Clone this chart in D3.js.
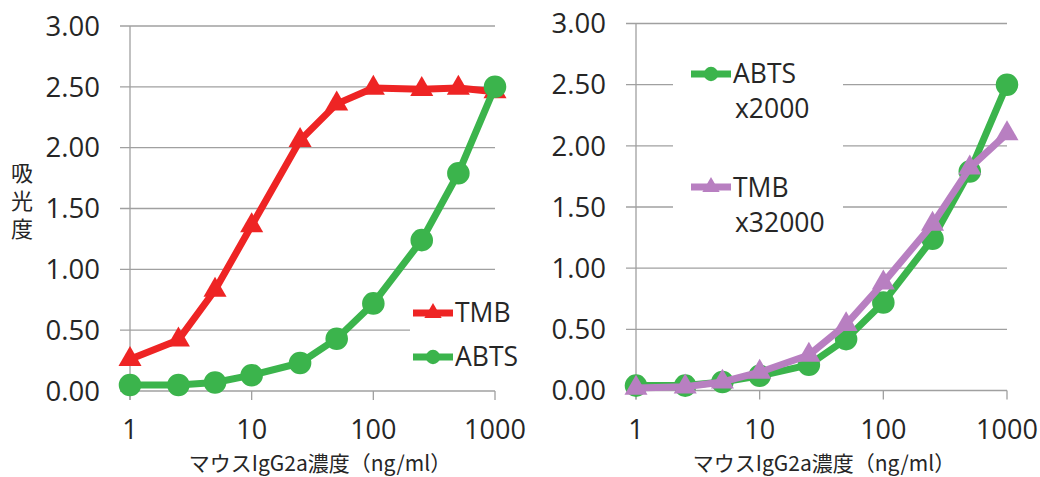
<!DOCTYPE html>
<html><head><meta charset="utf-8">
<script src="https://cdn.jsdelivr.net/npm/d3@7"></script>
<style>
html,body{margin:0;padding:0;background:#fff;}
svg{display:block;}
text{font-family:"Open Sans","Noto Sans CJK JP",sans-serif;fill:#262626;}
.cjk{font-family:"Noto Sans CJK JP","Open Sans",sans-serif;}
</style></head>
<body>
<svg id="c" width="1040" height="477"></svg>
<script>
const concentrations = [1, 2.5, 5, 10, 25, 50, 100, 250, 500, 1000];
const tmbLeft   = [0.26, 0.42, 0.83, 1.36, 2.06, 2.36, 2.49, 2.48, 2.49, 2.46];
const abtsLeft  = [0.05, 0.05, 0.07, 0.13, 0.23, 0.43, 0.72, 1.24, 1.79, 2.50];
const abtsRight = [0.04, 0.04, 0.07, 0.12, 0.21, 0.42, 0.72, 1.24, 1.79, 2.50];
const tmbRight  = [0.02, 0.03, 0.07, 0.15, 0.29, 0.54, 0.88, 1.36, 1.82, 2.10];
const xTicks = [1, 10, 100, 1000];
const yTicks = [0, 0.5, 1, 1.5, 2, 2.5, 3];
const xTitle = "マウスIgG2a濃度（ng/ml）";
const yTitle = "吸光度";

const RED = "#ee2424", GREEN = "#3bb44c", PURPLE = "#b87fc1", GRID = "#a0a0a0";
const svg = d3.select("#c");

function panel(cfg) {
  const g = svg.append("g");
  const x = d3.scaleLog().domain([1, 1000]).range([cfg.x0, cfg.x1]);
  const y = d3.scaleLinear().domain([0, 3]).range([cfg.y0, cfg.y1]);
  g.selectAll("line.grid").data(yTicks).join("line")
    .attr("x1", cfg.x0 - 10).attr("x2", cfg.x1)
    .attr("y1", d => y(d)).attr("y2", d => y(d))
    .attr("stroke", GRID).attr("stroke-width", 1.3);
  g.append("line").attr("x1", cfg.x0).attr("x2", cfg.x0)
    .attr("y1", y(3)).attr("y2", y(0) + 9).attr("stroke", GRID).attr("stroke-width", 1.3);
  g.selectAll("line.xt").data(xTicks).join("line")
    .attr("x1", d => x(d)).attr("x2", d => x(d))
    .attr("y1", y(0)).attr("y2", y(0) + 9)
    .attr("stroke", GRID).attr("stroke-width", 1.3);
  g.selectAll("text.yl").data(yTicks).join("text")
    .attr("x", cfg.x0 - 30).attr("y", d => y(d) + 9.8)
    .attr("text-anchor", "end").attr("font-size", 27.5)
    .text(d => d3.format(".2f")(d));
  g.selectAll("text.xl").data(xTicks).join("text")
    .attr("x", d => x(d)).attr("y", 438.5)
    .attr("text-anchor", "middle").attr("font-size", 27)
    .text(d => d);
  g.append("text").attr("class", "cjk").attr("x", cfg.titleX).attr("y", 471)
    .attr("text-anchor", "middle").attr("font-size", 21).text(xTitle);
  g.append("rect").attr("x", cfg.legBox[0]).attr("y", cfg.legBox[1])
    .attr("width", cfg.legBox[2]).attr("height", cfg.legBox[3]).attr("fill", "#fff");
  cfg.series.forEach(s => {
    const pts = concentrations.map((c, i) => [x(c), y(s.values[i])]);
    g.append("path").attr("d", d3.line()(pts)).attr("fill", "none")
      .attr("stroke", s.color).attr("stroke-width", 7).attr("stroke-linejoin", "round");
    const sym = d3.symbol().type(s.shape === "circle" ? d3.symbolCircle : d3.symbolTriangle)
      .size(s.shape === "circle" ? 400 : 230);
    g.selectAll(null).data(pts).join("path")
      .attr("transform", d => `translate(${d[0]},${d[1]})`)
      .attr("d", sym()).attr("fill", s.color);
  });
  cfg.legend.forEach(l => {
    g.append("line").attr("x1", l.lx).attr("x2", l.lx + 40)
      .attr("y1", l.ly).attr("y2", l.ly).attr("stroke", l.color).attr("stroke-width", 7);
    const sym = d3.symbol().type(l.shape === "circle" ? d3.symbolCircle : d3.symbolTriangle)
      .size(l.shape === "circle" ? 160 : 130);
    g.append("path").attr("transform", `translate(${l.lx + 20},${l.ly})`)
      .attr("d", sym()).attr("fill", l.color);
    l.lines.forEach((t, i) => {
      g.append("text").attr("x", l.lx + 42 + (i > 0 ? 2 : 0)).attr("y", l.by + i * 35)
        .attr("font-size", 26.5).text(t);
    });
  });
}

panel({
  x0: 130, x1: 495, y0: 391, y1: 26, titleX: 320,
  legBox: [410, 292, 110, 80],
  series: [
    {values: tmbLeft, color: RED, shape: "triangle"},
    {values: abtsLeft, color: GREEN, shape: "circle"}
  ],
  legend: [
    {lx: 413, ly: 313, by: 322, color: RED, shape: "triangle", lines: ["TMB"]},
    {lx: 413, ly: 357, by: 366, color: GREEN, shape: "circle", lines: ["ABTS"]}
  ]
});

panel({
  x0: 636, x1: 1007, y0: 390.5, y1: 23.5, titleX: 824,
  legBox: [673, 45, 170, 195],
  series: [
    {values: abtsRight, color: GREEN, shape: "circle"},
    {values: tmbRight, color: PURPLE, shape: "triangle"}
  ],
  legend: [
    {lx: 691, ly: 74, by: 83, color: GREEN, shape: "circle", lines: ["ABTS", "x2000"]},
    {lx: 691, ly: 187, by: 197, color: PURPLE, shape: "triangle", lines: ["TMB", "x32000"]}
  ]
});

svg.append("text").attr("class", "cjk")
  .attr("x", 22).attr("y", 162)
  .style("writing-mode", "vertical-rl")
  .style("letter-spacing", "6px")
  .attr("font-size", 22).text(yTitle);
</script>
</body></html>
